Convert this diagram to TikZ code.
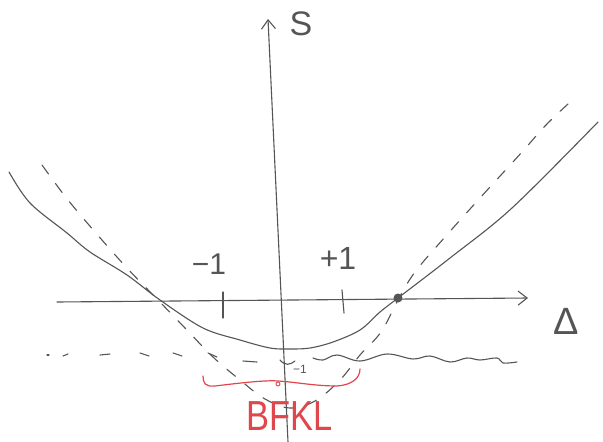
\documentclass[tikz,border=0pt]{standalone}
\usepackage{fontspec}
\setmainfont{Liberation Sans}
\usetikzlibrary{arrows.meta}
\definecolor{inkc}{HTML}{555555}
\definecolor{redc}{HTML}{E0474C}
\begin{document}
\begin{tikzpicture}[x=1pt,y=-1pt,
  ink/.style={draw=inkc, line width=1.1pt, line cap=round, line join=round},
  redink/.style={draw=redc, line width=1.2pt, line cap=round, line join=round},
  axisarrow/.style={ink, -{Straight Barb[length=9pt,width=14pt,line width=1.1pt]}},
  dashcurve/.style={ink, dash pattern=on 11pt off 12pt},
  lbl/.style={text=inkc, inner sep=0pt}]
\fill[white] (0,0) rectangle (603,442);
\useasboundingbox (0,0) rectangle (603,442);
% axes
\coordinate (xstart) at (57,302);
\coordinate (xend) at (528,298);
\coordinate (ybot) at (288,442);
\coordinate (ytop) at (268,19);
\draw[axisarrow] (xstart) -- (xend);
\draw[axisarrow] (ybot) -- (ytop);
\node[lbl, font=\fontsize{34}{34}\selectfont] (S) at (301,24) {S};
\node[lbl, font=\fontsize{38}{38}\selectfont] (D) at (566,321) {Δ};
% ticks
\draw[ink] (223,292) -- (223,318);
\draw[ink] (342,290) -- (344,313);
\node[lbl, font=\fontsize{30}{30}\selectfont] (m1) at (209,264) {−1};
\node[lbl, font=\fontsize{32}{32}\selectfont] (p1) at (338,258) {+1};
% solid curve
\draw[ink] plot[smooth, tension=0.55] coordinates {(9,172) (30,203) (67,233) (90,252) (127,275) (160,300) (203,328) (240,340) (270,348) (290,349) (310,348) (333,342) (360,330) (380,312) (398,298) (450,258) (512,208) (598,122)};
% dashed curve
\draw[dashcurve] plot[smooth, tension=0.6] coordinates {(42,165) (50,176) (68,200) (95,232) (127,268) (158,300) (185,328) (213,357) (240,380) (265,399) (290,408) (315,401) (340,380) (360,355) (381,332) (398,300) (415,272) (445,237) (480,198) (522,152) (545,126) (568,104)};
% point
\fill[inkc] (398,298) circle (4.5pt);
% horizontal dashed line
\foreach \a/\b in {{(47,355)/(49,355)},{(63,356)/(68,354)},{(100,355)/(110,354)},{(140,353)/(149,356)},{(173,353)/(182,356)},{(208,353)/(217,357)},{(243,361)/(257,362)}}
  {\draw[ink] \a -- \b;}
\draw[ink] (280,360) .. controls (285,366) and (290,365) .. (295,361);
% wavy line
\draw[ink] plot[smooth, tension=0.6] coordinates {(313,358) (323,360) (337,355) (360,361) (387,354) (413,359) (430,356) (450,362) (467,358) (480,360) (497,358) (503,363) (517,362)};
\node[lbl, font=\fontsize{12}{12}\selectfont] (m1s) at (300,369) {−1};
% red brace
\draw[redink] (203,376) .. controls (203,383) and (205,387) .. (215,386)
  .. controls (240,383) and (265,380) .. (278,381)
  .. controls (295,382) and (315,386) .. (337,386)
  .. controls (352,385) and (360,378) .. (360,369);
\draw[redink, line width=0.9pt] (278,384) circle (2pt);
\node[text=redc, inner sep=0pt, font=\fontsize{42}{42}\selectfont, xscale=0.82] (bfkl) at (290,416) {BFKL};
\end{tikzpicture}
\end{document}
